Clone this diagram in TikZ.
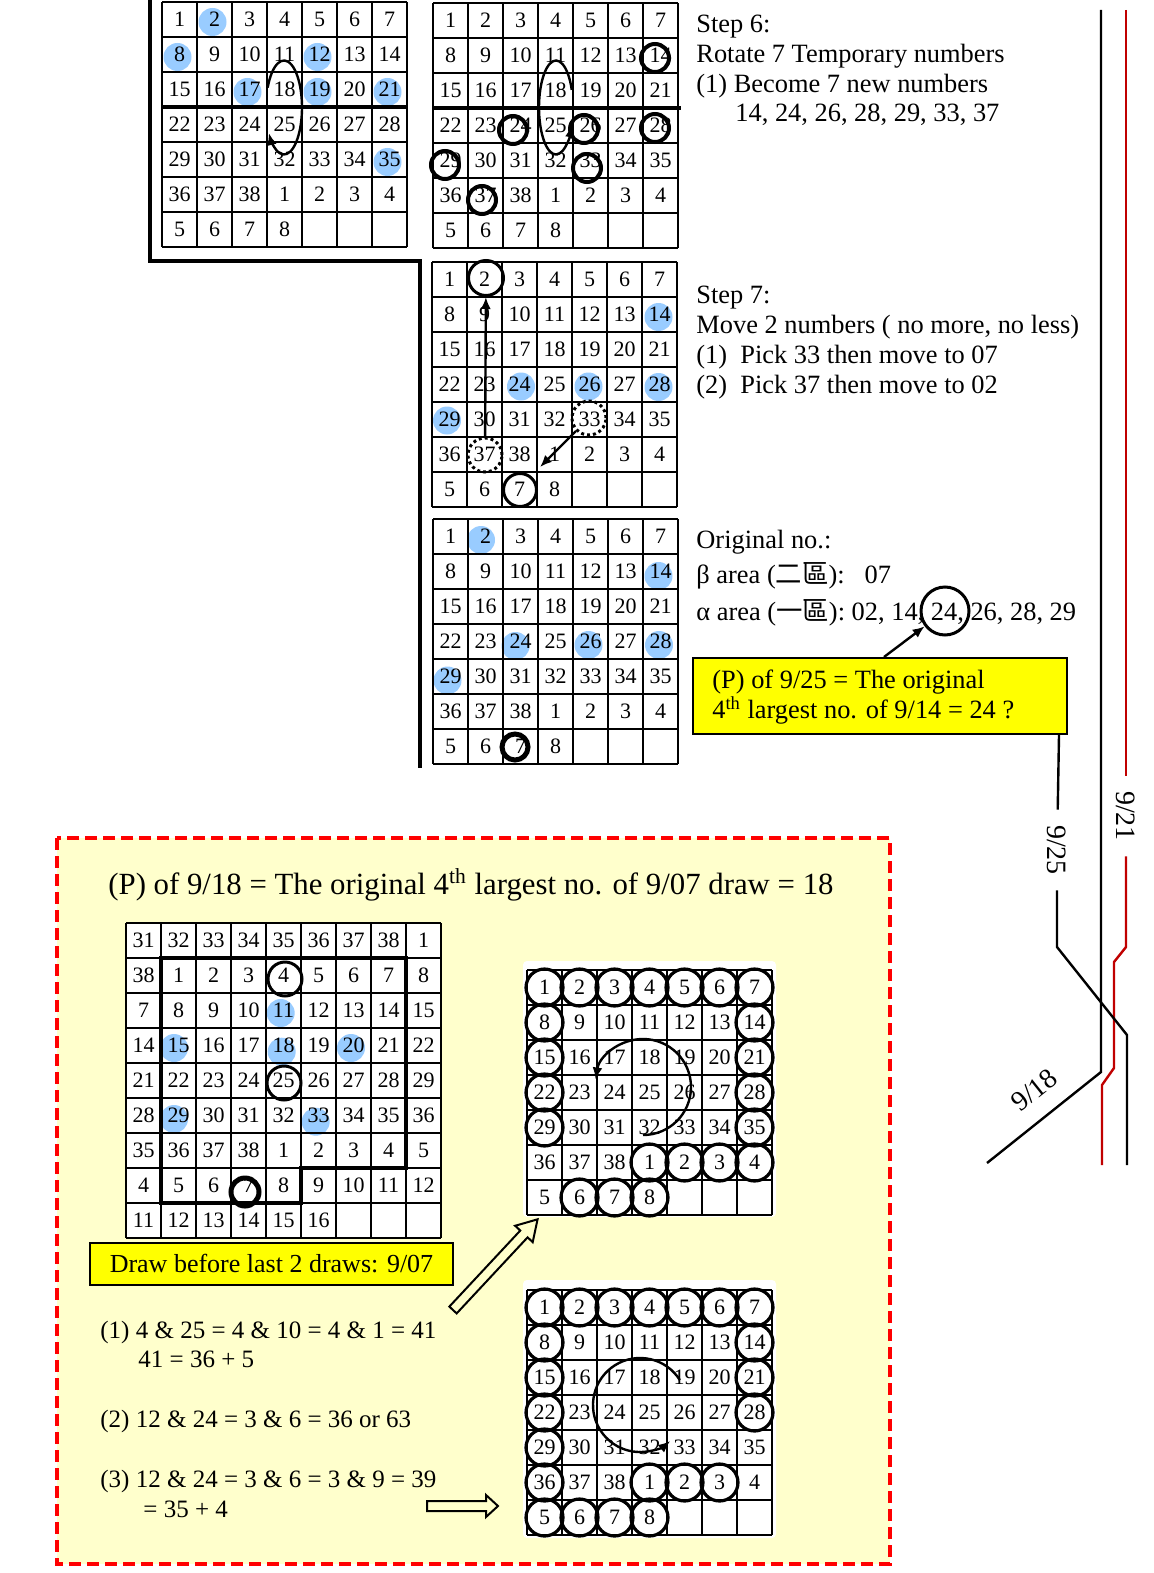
\documentclass[tikz,border=0pt]{standalone}
\usepackage{fontspec}
\setmainfont{Liberation Serif}
\newfontfamily\cjkfont{Noto Sans CJK TC}
\usetikzlibrary{arrows.meta}
\definecolor{pickblue}{HTML}{99CCFF}
\definecolor{dayred}{HTML}{C00000}
\definecolor{notegelb}{HTML}{FFFF00}
\definecolor{palegelb}{HTML}{FFFFCC}

\tikzset{
  num/.style={font=\fontsize{11}{11}\selectfont, inner sep=0pt},
  txt/.style={font=\fontsize{13.2}{15}\selectfont, anchor=base west, inner sep=0pt},
  cell/.style={line width=1pt},
  ring/.style={circle, draw, inner sep=0pt, line width=1.5pt, minimum size=#1},
  ring/.default=17pt,
  arr/.style={-{Latex[length=6pt, width=5pt]}, line width=1.2pt},
  tl/.style={line width=1.2pt},
  lbl/.style={font=\fontsize{14}{14}\selectfont, inner xsep=7.5pt, inner ysep=0pt},
  hollow/.style={draw, line width=1pt, fill=palegelb},
  % 7x7 Zahlengitter 1..38, dann 1..8
  pics/numgrid/.style={code={
    \foreach \i in {0,...,7} {
      \draw[cell] (\i*35,0) -- (\i*35,245);
      \draw[cell] (0,\i*35) -- (245,\i*35);
    }
    \foreach \k in {0,...,45} {
      \pgfmathtruncatemacro\gn{mod(\k,38)+1}
      \pgfmathtruncatemacro\gc{mod(\k,7)}
      \pgfmathtruncatemacro\gr{div(\k,7)}
      \node[num] (-\k) at (\gc*35+17.5,\gr*35+17.5) {\gn};
    }
  }}
}

\begin{document}
\begin{tikzpicture}[x=0.5pt, y=-0.5pt]
    \useasboundingbox (0,0) rectangle (1153,1573);

    % --- 1. STEP 6 ---
    \foreach \p in {(212.5,22), (177.5,57), (317.5,57), (247.5,92), (317.5,92), (387.5,92), (387.5,162)}
        \fill[pickblue] \p circle (14);
    \pic (g1) at (162,2) {numgrid};
    \draw[line width=2pt] (161,107) -- (408,107);
    \draw[arr] (284,107.5) ++(-155:18 and 47) arc[start angle=-155, end angle=147, x radius=18, y radius=47];

    \pic (g2) at (433,3) {numgrid};
    \draw[line width=2pt] (432,108) -- (681,108);
    \draw[arr] (556,107.5) ++(-22:17 and 47) arc[start angle=-22, end angle=-338, x radius=17, y radius=47];
    \foreach \p/\n in {(655,58)/14, (513,130)/24, (584,129)/26, (655,128)/28, (445,165)/29, (587,168)/33, (482,200)/37}
        \node[ring=14pt, line width=2pt] (g2-r\n) at \p {};

    % Trennlinie
    \draw[line width=2pt] (150,0) -- (150,261) -- (420,261) -- (420,768);

    % --- 2. STEP 7 ---
    \foreach \p in {(658.5,317), (521,386.5), (588.5,386.5), (658.5,387), (447,420.5)}
        \fill[pickblue] \p circle (14);
    \pic (g3) at (432,262) {numgrid};
    \node[ring=17.5pt] (g3-r2) at (486,278) {};
    \node[ring=16.5pt] (g3-r7) at (520,490) {};
    \node[ring=17pt, dash pattern=on 1.5pt off 1.5pt] (g3-d33) at (589,418) {};
    \node[ring=17pt, dash pattern=on 1.5pt off 1.5pt] (g3-d37) at (485,455) {};
    \coordinate (g3-t1) at (540,467);
    \draw[arr] (g3-d37) -- (g3-r2);
    \draw[arr] (g3-d33) -- (g3-t1);

    % --- 3. ORIGINAL ---
    \foreach \p in {(481,540), (658.5,576), (515.5,646), (588.5,645), (659,645), (447.5,680.5)}
        \fill[pickblue] \p circle (14);
    \pic (g4) at (433,519) {numgrid};
    \node[ring=13pt, line width=2.5pt] (g4-r7) at (515,747) {};

    % --- TEXTE RECHTS ---
    \node[txt] (s6a) at (696,33) {Step 6:};
    \node[txt] (s6b) at (696,63) {Rotate 7 Temporary numbers};
    \node[txt] (s6c) at (696,93) {(1) Become 7 new numbers};
    \node[txt] (s6d) at (735,122) {14, 24, 26, 28, 29, 33, 37};

    \node[txt] (s7a) at (696,303) {Step 7:};
    \node[txt] (s7b) at (696,333) {Move 2 numbers ( no more, no less)};
    \node[txt] (s7c) at (696,363) {(1)\ \ Pick 33 then move to 07};
    \node[txt] (s7d) at (696,393) {(2)\ \ Pick 37 then move to 02};

    \node[txt] (o1) at (696,548) {Original no.:};
    \node[txt] (o2) at (696,583) {β area ({\cjkfont 二區}):\hspace{10pt}07};
    \node[txt] (o3) at (696,620) {α area ({\cjkfont 一區}):\ 02, 14, 24, 26, 28, 29};
    \node[ring=24pt] (o-r24) at (945,611) {};

    \node[draw, fill=notegelb, line width=1pt, minimum width=187pt, minimum height=38pt,
          anchor=north west, inner sep=0pt] (pbox) at (692,657) {};
    \node[txt] (p1) at (712,688) {(P) of 9/25 = The original};
    \node[txt] (p2) at (712,718) {4\textsuperscript{th} largest no. of 9/14 = 24 ?};
    \draw[arr] ([xshift=2pt]pbox.north) -- (o-r24);

    % --- ZEITLINIEN ---
    \coordinate (k1) at (1101,10);
    \coordinate (k2) at (1101,1072);
    \coordinate (k3) at (987,1163);
    \draw[tl] (k1) -- (k2) -- (k3);
    \node[lbl, inner xsep=0pt, rotate=38.6] (l918) at (1034,1090) {9/18};

    \coordinate (r1) at (1126,10);
    \node[lbl, rotate=-90] (l921) at (1126,816) {9/21};
    \coordinate (r2) at (1126,947);
    \coordinate (r3) at (1114,962);
    \coordinate (r4) at (1114,1068);
    \coordinate (r5) at (1102,1085);
    \coordinate (r6) at (1102,1165);
    \draw[tl, dayred] (r1) -- (l921);
    \draw[tl, dayred] (l921) -- (r2) -- (r3) -- (r4) -- (r5) -- (r6);

    \node[lbl, rotate=-90] (l925) at (1057,850) {9/25};
    \coordinate (b1) at (1057,947);
    \coordinate (b2) at (1127,1035);
    \coordinate (b3) at (1127,1165);
    \draw[tl] ([xshift=-4.5pt]pbox.south east) -- (l925);
    \draw[tl] (l925) -- (b1) -- (b2) -- (b3);

    % --- 4. KASTEN UNTEN ---
    \draw[red, line width=2pt, dash pattern=on 6pt off 3pt, fill=palegelb] (57,838) rectangle (890,1564);
    \node[font=\fontsize{15.4}{18}\selectfont, anchor=base west, inner sep=0pt] (ttl) at (108,894)
        {(P) of 9/18 = The original 4\textsuperscript{th} largest no. of 9/07 draw = 18};

    % 9x9 Gitter
    \fill[white] (126,923) rectangle (441,1238);
    \foreach \p in {(280.7,1013), (174,1048), (281.7,1051.7), (351,1048), (174,1119), (315.7,1121.7)}
        \fill[pickblue] \p circle (14);
    \begin{scope}[shift={(126,923)}]
        \foreach \i in {0,...,9} {
            \draw[cell] (\i*35,0) -- (\i*35,315);
            \draw[cell] (0,\i*35) -- (315,\i*35);
        }
        \foreach \gr in {0,...,8} {
            \foreach \gc in {0,...,8} {
                \pgfmathtruncatemacro\gn{mod(7*\gr+\gc+30,38)+1}
                \pgfmathtruncatemacro\gk{9*\gr+\gc}
                \ifnum\gk<78 \node[num] (g5-\gk) at (\gc*35+17.5,\gr*35+17.5) {\gn};\fi
            }
        }
        \draw[line width=2pt] (35,35) -- (280,35) -- (280,245) -- (175,245) -- (175,280) -- (35,280) -- cycle;
    \end{scope}
    \node[ring=17pt] (g5-r4) at (285,979) {};
    \node[ring=17pt] (g5-r25) at (284,1083) {};
    \node[ring=14pt, line width=2.5pt] (g5-r7) at (245,1192) {};

    \node[draw, fill=notegelb, line width=1pt, minimum width=181.5pt, minimum height=21pt,
          font=\fontsize{13}{13}\selectfont] (dbox) at (271.5,1264) {Draw before last 2 draws: 9/07};

    \node[txt, font=\fontsize{12.5}{15}\selectfont] (e1) at (100,1338) {(1) 4 \& 25 = 4 \& 10 = 4 \& 1 = 41};
    \node[txt, font=\fontsize{12.5}{15}\selectfont] (e2) at (138,1367) {41 = 36 + 5};
    \node[txt, font=\fontsize{12.5}{15}\selectfont] (e3) at (100,1427) {(2) 12 \& 24 = 3 \& 6 = 36 or 63};
    \node[txt, font=\fontsize{12.5}{15}\selectfont] (e4) at (100,1487) {(3) 12 \& 24 = 3 \& 6 = 3 \& 9 = 39};
    \node[txt, font=\fontsize{12.5}{15}\selectfont] (e5) at (143,1517) {= 35 + 4};

    % Blockpfeile
    \begin{scope}[shift={(453,1310)}, rotate=47]
        \draw[hollow] (0,-5) -- (104,-5) -- (104,-12) -- (124,0) -- (104,12) -- (104,5) -- (0,5) -- cycle;
    \end{scope}
    \begin{scope}[shift={(427,1506)}]
        \draw[hollow] (0,-5) -- (59,-5) -- (59,-11) -- (71,0) -- (59,11) -- (59,5) -- (0,5) -- cycle;
    \end{scope}

    % Rotation A
    \fill[white, rounded corners=2pt] (523,961) rectangle (776,1217);
    \pic (ga) at (527,970) {numgrid};
    \foreach \k in {0,...,7,13,14,20,21,27,28,34,38,39,40,41,43,44,45}
        \node[ring=18.5pt, line width=1.6pt] (ga-r\k) at (ga-\k) {};
    \draw[arr] (643,1087) ++(90:48) arc[start angle=90, end angle=-171, radius=48];

    % Rotation B
    \fill[white, rounded corners=2pt] (523,1280) rectangle (776,1538);
    \pic (gb) at (527,1290) {numgrid};
    \foreach \k in {0,...,7,13,14,20,21,27,28,35,38,39,40,42,43,44,45}
        \node[ring=18.5pt, line width=1.6pt] (gb-r\k) at (gb-\k) {};
    \draw[arr] (640,1405) ++(-32:47) arc[start angle=-32, end angle=-310, radius=47];

\end{tikzpicture}
\end{document}
